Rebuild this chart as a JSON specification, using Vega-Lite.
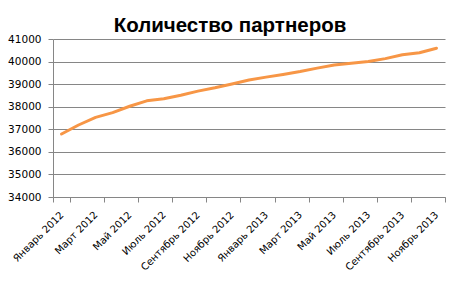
{
  "$schema": "https://vega.github.io/schema/vega-lite/v6.json",
  "autosize": "none",
  "width": 392,
  "height": 158,
  "padding": {"left": 53, "top": 39, "right": 16, "bottom": 96},
  "background": "white",
  "title": {
    "text": "Количество партнеров",
    "font": "Liberation Sans",
    "fontSize": 20.5,
    "fontWeight": "bold",
    "color": "#000000",
    "anchor": "middle",
    "dx": -19,
    "baseline": "alphabetic",
    "offset": -18
  },
  "data": {
    "values": [
      {"m": "Январь 2012", "v": 36790},
      {"m": "Февраль 2012", "v": 37190},
      {"m": "Март 2012", "v": 37530},
      {"m": "Апрель 2012", "v": 37740},
      {"m": "Май 2012", "v": 38020},
      {"m": "Июнь 2012", "v": 38260},
      {"m": "Июль 2012", "v": 38350},
      {"m": "Август 2012", "v": 38510},
      {"m": "Сентябрь 2012", "v": 38690},
      {"m": "Октябрь 2012", "v": 38840},
      {"m": "Ноябрь 2012", "v": 39010},
      {"m": "Декабрь 2012", "v": 39180},
      {"m": "Январь 2013", "v": 39310},
      {"m": "Февраль 2013", "v": 39430},
      {"m": "Март 2013", "v": 39560},
      {"m": "Апрель 2013", "v": 39710},
      {"m": "Май 2013", "v": 39850},
      {"m": "Июнь 2013", "v": 39930},
      {"m": "Июль 2013", "v": 40000},
      {"m": "Август 2013", "v": 40130},
      {"m": "Сентябрь 2013", "v": 40300},
      {"m": "Октябрь 2013", "v": 40390},
      {"m": "Ноябрь 2013", "v": 40590}
    ]
  },
  "mark": {"type": "line", "color": "#F79646", "strokeWidth": 3, "strokeCap": "round", "strokeJoin": "round"},
  "encoding": {
    "x": {
      "field": "m",
      "type": "ordinal",
      "sort": null,
      "bandPosition": 0.5,
      "scale": {"type": "band", "paddingInner": 0, "paddingOuter": 0},
      "axis": {
        "title": null,
        "values": ["Январь 2012", "Март 2012", "Май 2012", "Июль 2012", "Сентябрь 2012", "Ноябрь 2012", "Январь 2013", "Март 2013", "Май 2013", "Июль 2013", "Сентябрь 2013", "Ноябрь 2013"],
        "tickBand": "extent",
        "tickExtra": false,
        "labelAngle": -45,
        "labelAlign": "right",
        "labelBaseline": "middle",
        "labelFont": "DejaVu Sans",
        "labelFontSize": 10,
        "labelColor": "#000000",
        "labelPadding": 11,
        "domainColor": "#868686",
        "tickColor": "#868686",
        "tickSize": 5,
        "grid": false
      }
    },
    "y": {
      "field": "v",
      "type": "quantitative",
      "scale": {"domain": [34000, 41000], "nice": false, "zero": false},
      "axis": {
        "title": null,
        "values": [34000, 35000, 36000, 37000, 38000, 39000, 40000, 41000],
        "format": "d",
        "labelFont": "DejaVu Sans",
        "labelFontSize": 10.5,
        "labelColor": "#000000",
        "labelPadding": 7,
        "domainColor": "#868686",
        "tickColor": "#868686",
        "tickSize": 5,
        "grid": true,
        "gridColor": "#868686",
        "gridOpacity": 1
      }
    }
  },
  "config": {"view": {"stroke": null}}
}
